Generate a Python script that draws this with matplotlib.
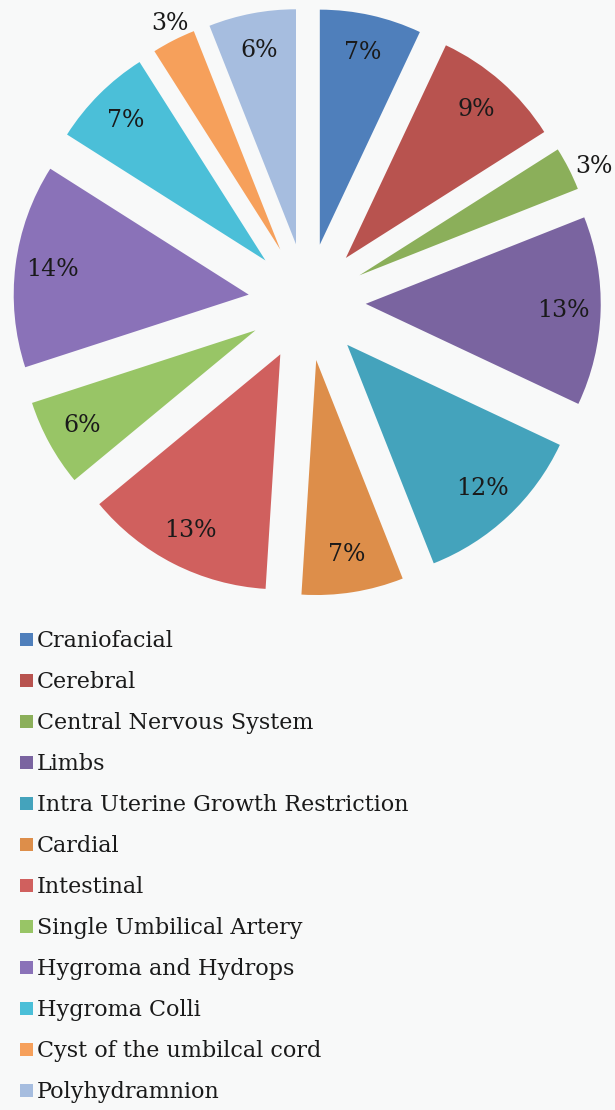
import matplotlib
matplotlib.use("Agg")
import matplotlib.pyplot as plt
import numpy as np

categories = ["Craniofacial", "Cerebral", "Central Nervous System", "Limbs",
              "Intra Uterine Growth Restriction", "Cardial", "Intestinal",
              "Single Umbilical Artery", "Hygroma and Hydrops", "Hygroma Colli",
              "Cyst of the umbilcal cord", "Polyhydramnion"]
values = [7, 9, 3, 13, 12, 7, 13, 6, 14, 7, 3, 6]
colors = ["#4F7FBB", "#B8534F", "#8BAF5A", "#7A64A0", "#44A3BC", "#DD8E4A",
          "#D0605E", "#98C566", "#8A72B8", "#4BBFD8", "#F6A05B", "#A6BDDF"]

bg = "#F8F9F9"
W, H = 615, 1110
fig = plt.figure(figsize=(W / 100, H / 100), dpi=100, facecolor=bg)

cx, cy, R = 307, 302, 235
ext = R * 1.45
ax = fig.add_axes([(cx - ext) / W, 1 - (cy + ext) / H, 2 * ext / W, 2 * ext / H])
ax.set_facecolor(bg)
ax.axis("off")

font = "DejaVu Serif"
wedges, texts, autotexts = ax.pie(
    values, colors=colors, startangle=90, counterclock=False,
    explode=[0.25] * len(values), radius=1.0, autopct="%d%%",
    pctdistance=0.84, wedgeprops=dict(linewidth=0),
    textprops=dict(fontfamily=font, fontsize=17, color="#1a1a1a"),
    frame=False)
ax.set_xlim(-ext / R, ext / R)
ax.set_ylim(-ext / R, ext / R)
ax.set_aspect("equal")

# small slices: labels outside the wedge (angle shift in degrees, distance)
outside = {2: (-2.0, 1.10), 10: (-1.0, 1.07)}
for i, (w, t) in enumerate(zip(wedges, autotexts)):
    if i in outside:
        sh, d = outside[i]
        ang = np.deg2rad((w.theta1 + w.theta2) / 2 + sh)
        cxw, cyw = w.center
        t.set_position((cxw + d * np.cos(ang), cyw + d * np.sin(ang)))

# legend
y0 = 641
step = 41
for i, (c, lab) in enumerate(zip(colors, categories)):
    y = y0 + i * step
    fig.patches.append(plt.Rectangle((20 / W, 1 - (y + 5) / H), 13 / W, 13 / H,
                                     transform=fig.transFigure, facecolor=c,
                                     edgecolor="none"))
    fig.text(37 / W, 1 - y / H, lab, fontfamily=font, fontsize=16,
             color="#1a1a1a", va="center", ha="left")

fig.savefig("out.png", dpi=100, facecolor=bg)
